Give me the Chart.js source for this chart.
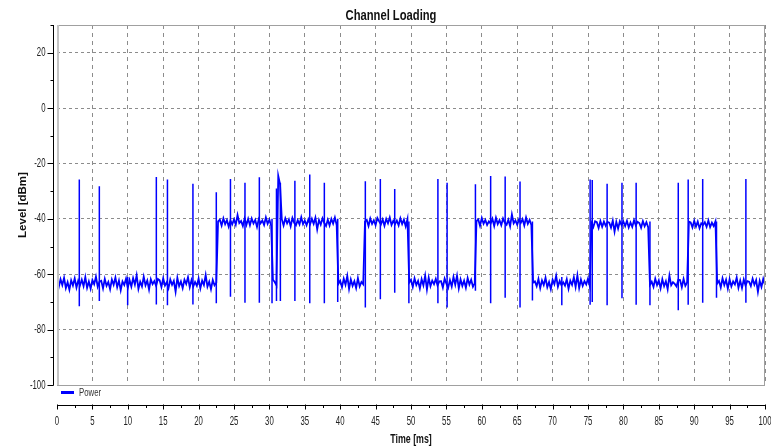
<!DOCTYPE html>
<html lang="en">
<head>
<meta charset="UTF-8">
<title>Channel Loading</title>
<script src="https://cdn.jsdelivr.net/npm/chart.js"></script>
<style>
  html, body { margin: 0; padding: 0; background: #fff; overflow: hidden; }
  #box { width: 771px; height: 448px; }
</style>
</head>
<body>
<div id="box"><canvas id="chartCanvas"></canvas></div>
<script>
// measured trace, one sample every 0.25 ms from 0 to 100 ms (noise floor and bursts)
const sampleStepMs = 0.25;
const powerDbm = [
  -62.5, -64.6, -61.8, -63.9, -61.3, -65.0, -62.9, -65.6, -62.2, -64.1,
  -61.5, -64.8, -62.3, -64.0, -62.0, -64.3, -61.0, -64.9, -62.6, -65.2,
  -62.1, -63.6, -60.9, -64.5, -62.7, -62.4, -65.1, -61.7, -64.2, -62.8,
  -65.4, -61.9, -63.8, -61.2, -64.7, -62.3, -65.8, -62.6, -63.9, -61.6,
  -64.9, -62.1, -64.5, -61.4, -63.7, -60.4, -65.3, -62.7, -64.4, -60.9,
  -64.0, -62.3, -65.5, -61.8, -63.6, -62.5, -64.2, -61.7, -62.2, -64.6,
  -61.5, -64.1, -62.9, -65.0, -61.9, -63.8, -62.4, -66.3, -61.3, -64.3,
  -62.6, -65.0, -62.0, -63.5, -61.1, -64.7, -62.1, -64.4, -62.8, -64.2,
  -61.6, -65.1, -62.3, -63.9, -60.3, -64.5, -62.7, -65.4, -62.1, -64.0,
  -63.1, -40.9, -40.3, -42.4, -39.8, -41.9, -40.5, -42.8, -40.6, -42.0,
  -40.2, -42.1, -38.6, -41.5, -40.8, -42.6, -39.9, -42.2, -40.0, -42.3,
  -39.9, -41.7, -40.4, -42.9, -40.1, -41.6, -40.6, -42.2, -39.5, -41.8,
  -40.3, -42.5, -62.0, -62.8, -64.0, -24.5, -27.5, -40.1, -42.4, -39.8,
  -41.6, -40.2, -42.7, -39.7, -41.4, -42.3, -40.5, -42.0, -39.4, -41.9,
  -40.6, -42.3, -40.2, -41.9, -40.0, -41.8, -39.6, -43.8, -40.4, -42.1,
  -39.8, -41.5, -42.6, -40.3, -42.4, -40.0, -41.7, -39.5, -42.2, -63.5,
  -62.4, -64.7, -61.6, -63.8, -60.6, -65.3, -61.9, -64.2, -62.5, -65.0,
  -61.4, -64.4, -62.8, -63.6, -41.0, -40.4, -42.6, -39.9, -41.8, -40.5,
  -42.3, -39.7, -40.9, -42.0, -40.2, -42.5, -40.0, -41.6, -39.5, -42.2,
  -40.7, -41.9, -40.6, -42.4, -39.8, -41.9, -40.3, -42.7, -40.1, -63.0,
  -62.0, -64.6, -61.5, -63.9, -62.4, -65.2, -61.8, -64.0, -60.5, -65.5,
  -61.2, -64.3, -62.3, -63.6, -61.7, -64.1, -62.6, -62.5, -64.8, -61.6,
  -63.4, -64.9, -62.1, -64.4, -61.0, -63.8, -60.5, -65.1, -61.9, -64.2,
  -62.3, -64.9, -61.4, -63.7, -62.0, -64.5, -63.3, -40.8, -40.2, -42.5,
  -39.7, -41.8, -40.4, -42.2, -40.9, -41.7, -40.0, -42.6, -39.6, -41.9,
  -40.5, -42.3, -39.9, -41.4, -42.1, -40.3, -42.7, -38.4, -41.6, -40.6,
  -42.1, -40.2, -41.5, -40.1, -42.4, -39.5, -41.8, -40.4, -42.2, -63.0,
  -62.6, -64.3, -61.7, -65.0, -62.2, -63.9, -61.3, -64.7, -62.8, -65.4,
  -62.0, -63.6, -60.6, -64.5, -62.4, -64.0, -62.9, -64.1, -61.8, -65.2,
  -62.3, -63.8, -61.1, -64.6, -60.4, -65.0, -61.9, -64.2, -62.5, -63.7,
  -61.6, -64.2, -41.5, -43.0, -40.9, -41.2, -43.3, -40.8, -42.9, -41.0,
  -42.5, -41.1, -41.4, -43.2, -40.6, -44.6, -41.1, -43.5, -40.9, -42.3,
  -41.0, -42.6, -40.7, -43.1, -41.3, -42.9, -40.5, -42.4, -41.1, -41.5,
  -43.2, -40.8, -42.7, -41.2, -43.0, -63.8, -62.7, -64.6, -61.6, -63.9,
  -62.2, -65.1, -61.8, -64.3, -62.5, -65.4, -60.5, -64.0, -62.9, -63.5,
  -64.4, -62.0, -62.1, -64.7, -61.7, -64.2, -63.0, -41.0, -41.3, -43.1,
  -40.7, -42.8, -41.0, -43.4, -41.6, -42.2, -41.2, -42.9, -40.6, -43.0,
  -41.4, -42.6, -40.9, -63.4, -62.4, -64.8, -61.5, -63.9, -62.0, -65.2,
  -61.8, -64.4, -62.6, -63.7, -61.2, -64.9, -62.3, -65.0, -61.9, -64.1,
  -62.5, -62.7, -64.3, -61.6, -63.8, -62.1, -66.4, -62.4, -64.6, -61.7,
  -63.9
];

// short pulses: time, peak and trough of each vertical spike
const spikeTimeMs = [3.15, 5.98, 9.98, 14.03, 15.6, 19.2, 22.5, 24.5, 26.55, 28.58,
  30.37, 31.0, 31.55, 33.6, 35.7, 37.76, 39.65, 43.55, 45.67, 47.7,
  49.7, 53.8, 55.1, 59.1, 61.25, 63.3, 65.4, 67.15, 71.3, 75.3,
  75.6, 77.7, 79.8, 81.8, 83.75, 87.75, 89.15, 91.2, 93.15, 97.3];
const spikeTopDbm = [-25.8, -28.2, -61.0, -24.9, -25.8, -27.3, -30.4, -25.6, -27.0, -25.0,
  -40.0, -29.0, -27.0, -26.2, -24.0, -27.0, -40.0, -26.4, -25.6, -29.2,
  -41.0, -25.6, -27.0, -27.5, -24.5, -24.7, -26.5, -41.0, -61.0, -25.8,
  -26.0, -27.3, -27.0, -27.0, -41.0, -27.0, -25.8, -25.6, -41.0, -25.6];
const spikeBottomDbm = [-71.6, -69.7, -71.2, -70.9, -71.2, -70.9, -70.5, -68.1, -70.3, -70.3,
  -70.5, -69.7, -69.7, -69.7, -70.5, -70.5, -70.0, -72.0, -69.0, -66.7,
  -70.5, -70.5, -72.0, -66.0, -70.5, -68.5, -72.0, -69.5, -71.2, -71.0,
  -70.0, -71.2, -68.7, -71.0, -71.2, -73.0, -71.0, -70.3, -68.5, -70.3];

const seriesName = 'Power';
const chartTitle = 'Channel Loading';
const xTitle = 'Time [ms]';
const yTitle = 'Level [dBm]';
const xTickValues = [0, 5, 10, 15, 20, 25, 30, 35, 40, 45, 50, 55, 60, 65, 70, 75, 80, 85, 90, 95, 100];
const xMinorTickValues = [2.5, 7.5, 12.5, 17.5, 22.5, 27.5, 32.5, 37.5, 42.5, 47.5, 52.5, 57.5, 62.5, 67.5, 72.5, 77.5, 82.5, 87.5, 92.5, 97.5];
const yTickValues = [-100, -80, -60, -40, -20, 0, 20];
const yMinorTickValues = [-90, -70, -50, -30, -10, 10, 30];

const plainFont = "'Liberation Sans', Arial, sans-serif";
const traceBlue = 'rgb(0, 0, 255)';

// tables the line chart needs
const tracePoints = powerDbm.map((v, i) => ({ x: i * sampleStepMs, y: v }));
const spikePoints = spikeTimeMs.flatMap((t, i) => [
    { x: t, y: spikeTopDbm[i] },
    { x: t, y: spikeBottomDbm[i] },
    { x: t, y: null }
]);

// the original widget uses a very condensed face, so squeeze the text sideways
function squeezedText(ctx, text, x, y, font, squeeze, align) {
    ctx.save();
    ctx.translate(x, y);
    ctx.scale(squeeze, 1);
    ctx.font = font;
    ctx.textAlign = align;
    ctx.textBaseline = 'middle';
    ctx.fillText(text, 0, 0);
    ctx.restore();
}

// frame, detached axes, tick labels, legend and title
const frameAndAxes = {
    id: 'frameAndAxes',
    afterDraw(chart) {
        const ctx = chart.ctx;
        const area = chart.chartArea;
        const xs = chart.scales.x;
        const ys = chart.scales.y;
        ctx.save();

        // plot frame
        ctx.strokeStyle = '#a0a0a0';
        ctx.lineWidth = 1;
        ctx.strokeRect(area.left + 0.5, area.top + 0.5, area.right - area.left - 1, area.bottom - area.top);
        ctx.strokeStyle = '#c4c4c4';
        ctx.lineWidth = 2;
        ctx.beginPath();
        ctx.moveTo(area.left + 1, area.top);
        ctx.lineTo(area.left + 1, area.bottom);
        ctx.stroke();

        // y axis, a little left of the frame
        const yAxisX = area.left - 3.5;
        ctx.strokeStyle = '#000';
        ctx.lineWidth = 1;
        ctx.beginPath();
        ctx.moveTo(yAxisX, area.top);
        ctx.lineTo(yAxisX, area.bottom + 0.5);
        yTickValues.forEach(v => {
            const py = Math.round(ys.getPixelForValue(v)) + 0.5;
            ctx.moveTo(yAxisX - 6, py);
            ctx.lineTo(yAxisX, py);
        });
        yMinorTickValues.forEach(v => {
            const py = Math.round(ys.getPixelForValue(v)) + 0.5;
            ctx.moveTo(yAxisX - 3, py);
            ctx.lineTo(yAxisX, py);
        });
        ctx.stroke();

        // x axis, below the legend strip
        const xAxisY = area.bottom + 20.5;
        ctx.beginPath();
        ctx.moveTo(area.left, xAxisY);
        ctx.lineTo(area.right + 1, xAxisY);
        xTickValues.forEach(v => {
            const px = Math.round(xs.getPixelForValue(v)) + 0.5;
            ctx.moveTo(px, xAxisY - 1);
            ctx.lineTo(px, xAxisY + 4);
        });
        xMinorTickValues.forEach(v => {
            const px = Math.round(xs.getPixelForValue(v)) + 0.5;
            ctx.moveTo(px, xAxisY);
            ctx.lineTo(px, xAxisY + 2.5);
        });
        ctx.stroke();

        // tick labels
        ctx.fillStyle = '#222';
        yTickValues.forEach(v => {
            squeezedText(ctx, String(v), yAxisX - 8, ys.getPixelForValue(v), '13px ' + plainFont, 0.6, 'right');
        });
        xTickValues.forEach(v => {
            squeezedText(ctx, String(v), xs.getPixelForValue(v), xAxisY + 16, '13px ' + plainFont, 0.6, 'center');
        });

        // x axis title
        ctx.fillStyle = '#111';
        squeezedText(ctx, xTitle, (area.left + area.right) / 2, 439, 'bold 13px ' + plainFont, 0.68, 'center');

        // legend
        ctx.fillStyle = traceBlue;
        ctx.fillRect(area.left + 4, area.bottom + 6, 13, 3);
        ctx.fillStyle = '#333';
        squeezedText(ctx, seriesName, area.left + 22, area.bottom + 8, '10px ' + plainFont, 0.78, 'left');

        // chart title
        ctx.fillStyle = '#111';
        squeezedText(ctx, chartTitle, 391, 16, 'bold 14px ' + plainFont, 0.8, 'center');

        ctx.restore();
    }
};

new Chart(document.getElementById('chartCanvas'), {
    type: 'line',
    data: {
        datasets: [{
            label: seriesName,
            data: tracePoints,
            borderColor: traceBlue,
            borderWidth: 1.8,
            pointRadius: 0,
            tension: 0,
            fill: false
        }, {
            label: seriesName + ' spikes',
            data: spikePoints,
            borderColor: traceBlue,
            borderWidth: 1.5,
            pointRadius: 0,
            tension: 0,
            spanGaps: false,
            fill: false
        }]
    },
    options: {
        responsive: true,
        maintainAspectRatio: false,
        animation: false,
        events: [],
        layout: { padding: { top: 25, right: 6, left: 0, bottom: 0 } },
        plugins: {
            legend: { display: false },
            title: { display: false },
            tooltip: { enabled: false }
        },
        scales: {
            x: {
                type: 'linear',
                min: 0,
                max: 100,
                afterBuildTicks: s => { s.ticks = xTickValues.map(v => ({ value: v })); },
                afterFit: s => { s.height = 63; },
                grid: { color: '#8c8c8c', drawTicks: false },
                border: { display: false, dash: [4, 4] },
                ticks: { display: false }
            },
            y: {
                type: 'linear',
                min: -100,
                max: 30,
                afterBuildTicks: s => { s.ticks = yTickValues.map(v => ({ value: v })); },
                afterFit: s => { s.width = 57; },
                grid: { color: '#8c8c8c', drawTicks: false },
                border: { display: false, dash: [3, 3] },
                ticks: { display: false },
                title: {
                    display: true,
                    text: yTitle,
                    color: '#111',
                    font: { family: plainFont, size: 11.5, weight: 'bold' },
                    padding: { top: 16, bottom: 0 }
                }
            }
        }
    },
    plugins: [frameAndAxes]
});
</script>
</body>
</html>
